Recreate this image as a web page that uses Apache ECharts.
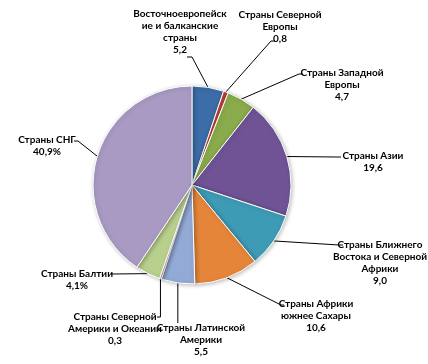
<!DOCTYPE html>
<html><head><meta charset="utf-8">
<script src="https://cdn.jsdelivr.net/npm/echarts@6/dist/echarts.min.js"></script>
<style>html,body{margin:0;padding:0;background:#fff}#c{width:428px;height:364px}</style>
</head><body><div id="c"></div>
<script>
var categories = [
  "Восточноевропейск\nие и балканские\nстраны",
  "Страны Северной\nЕвропы",
  "Страны Западной\nЕвропы",
  "Страны Азии",
  "Страны Ближнего\nВостока и Северной\nАфрики",
  "Страны Африки\nюжнее Сахары",
  "Страны Латинской\nАмерики",
  "Страны Северной\nАмерики и Океании",
  "Страны Балтии",
  "Страны СНГ"
];
var values = [5.2, 0.8, 4.7, 19.6, 9.0, 10.6, 5.5, 0.3, 4.1, 40.9];
var valueLabels = ["5,2", "0,8", "4,7", "19,6", "9,0", "10,6", "5,5", "0,3", "4,1%", "40,9%"];
var colors = ["#3C6DA8", "#BE3F3B", "#8AAB4B", "#6F5395", "#3E9BB5", "#E5853A", "#93AAD6", "#D99694", "#B9D08D", "#A89AC2"];
// label layout (block top-center) and leader-line end / style
var labelPos = [[180, 8], [280, 9], [342, 67], [373, 150], [380, 239], [316, 298], [201, 322], [115, 311], [77, 268], [47, 134]];
var lineEnd = [[187, 57], [275, 41], [303, 74], [341, 157], [343, 245], [284, 305], [0, 323], [157, 317], [111, 274], [74, 141]];
var lineStub = [5, -4, -4, -4, -4, -3, 'v', 'vh', 0, 4];

var chart = echarts.init(document.getElementById('c'));
chart.setOption({
  animation: false,
  series: [{
    type: 'pie',
    center: [192, 185],
    radius: [0, 99],
    startAngle: 90,
    clockwise: true,
    avoidLabelOverlap: false,
    data: values.map(function (v, i) {
      return { name: categories[i], value: v, itemStyle: { color: colors[i] } };
    }),
    itemStyle: { borderColor: '#fff', borderWidth: 1, shadowColor: 'rgba(0,0,0,0.25)', shadowBlur: 4, shadowOffsetX: 1, shadowOffsetY: 1 },
    label: {
      show: true,
      position: 'outside',
      formatter: function (p) { return p.name + '\n' + valueLabels[p.dataIndex]; },
      fontFamily: 'Lato, "Open Sans", sans-serif',
      fontSize: 10,
      fontWeight: 'bold',
      color: '#000',
      lineHeight: 12,
      align: 'center'
    },
    labelLine: { show: true, length: 10, length2: 10, lineStyle: { color: '#000', width: 1 } },
    labelLayout: function (p) {
      var i = p.dataIndex;
      var pos = labelPos[i];
      var res = { x: pos[0], y: pos[1], align: 'center', verticalAlign: 'top' };
      if (p.labelLinePoints && p.labelLinePoints.length) {
        var s = p.labelLinePoints[0];
        var e = lineEnd[i];
        var st = lineStub[i];
        var pts;
        if (st === 'v') pts = [s, [s[0], e[1]]];
        else if (st === 'vh') pts = [s, [s[0], e[1]], e];
        else if (st === 0) pts = [s, e];
        else pts = [s, [e[0] + st, e[1]], e];
        res.labelLinePoints = pts;
      }
      return res;
    }
  }]
});
</script></body></html>
